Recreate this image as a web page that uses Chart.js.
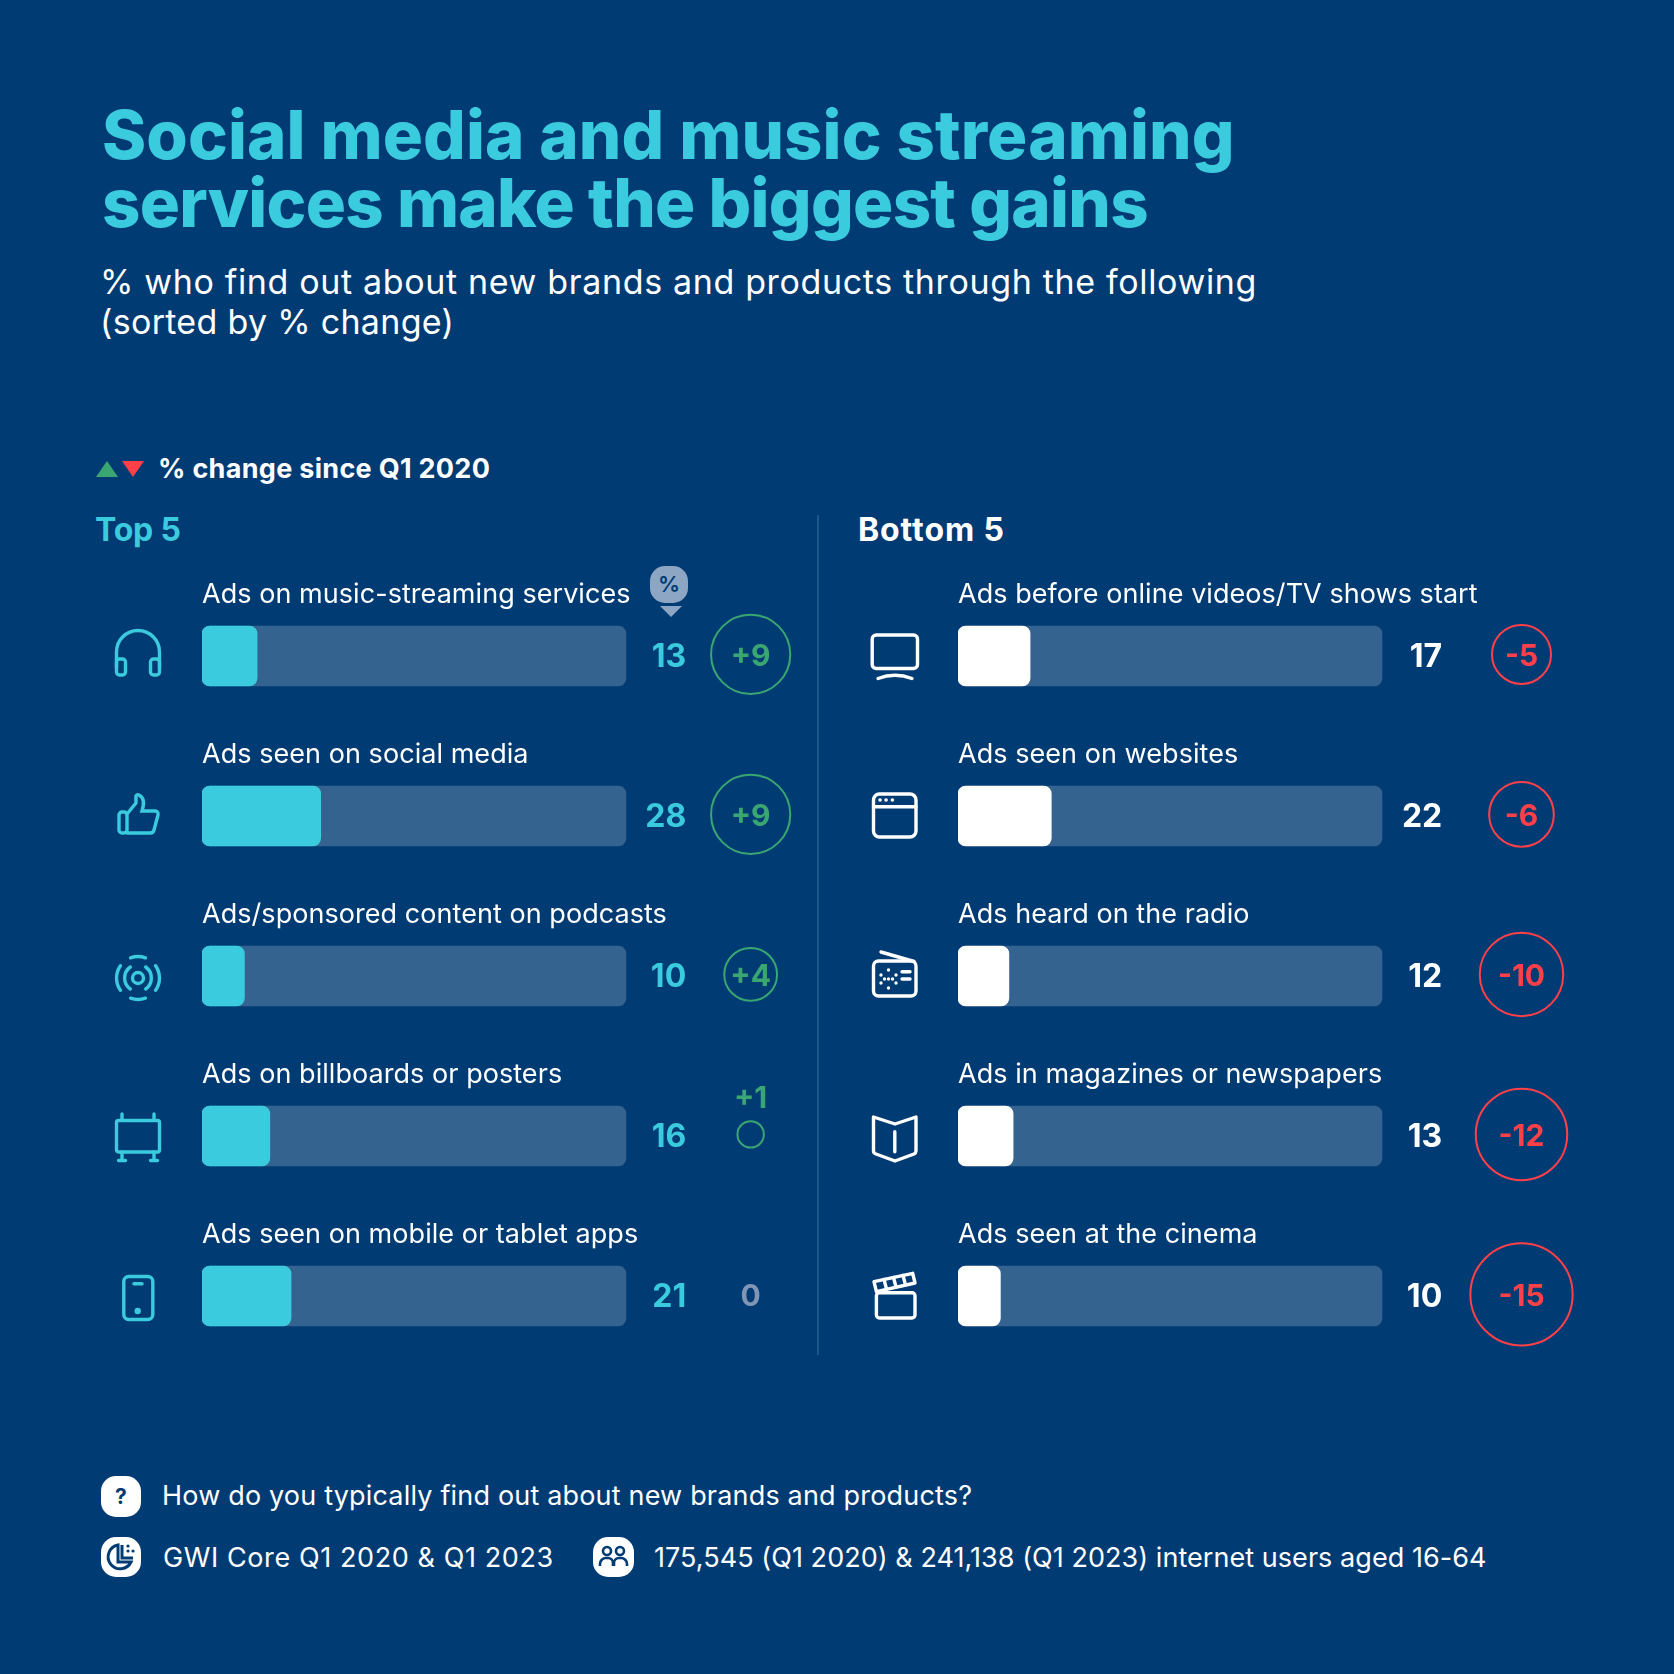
<!DOCTYPE html>
<html>
<head>
<meta charset="utf-8">
<title>Social media and music streaming services make the biggest gains</title>
<script src="https://cdn.jsdelivr.net/npm/chart.js@4/dist/chart.umd.min.js"></script>
<style>
    html, body { margin: 0; padding: 0; background: #003b73; }
    #page { position: relative; width: 1674px; height: 1674px; overflow: hidden; background: #003b73; font-family: Inter, sans-serif; color: #fff; }
    #page > * { position: absolute; }
    .title { left: 102px; top: 101px; font-size: 67px; line-height: 68px; font-weight: 800; color: #3bcbde; white-space: nowrap; }
    .subtitle { left: 100px; top: 262px; font-size: 34px; line-height: 40px; font-weight: 400; letter-spacing: 0.65px; white-space: nowrap; }
    .legend { left: 158px; top: 452px; font-size: 27px; line-height: 34px; font-weight: 700; letter-spacing: 0.3px; white-space: nowrap; }
    .panelTitle { top: 512px; font-size: 32px; line-height: 36px; font-weight: 700; white-space: nowrap; }
    .foot { font-size: 27px; line-height: 34px; font-weight: 400; white-space: nowrap; }
    .pct { left: 650px; top: 566px; width: 38px; height: 37px; border-radius: 15px; background: #8ca6c4; color: #003b73; font-size: 22px; line-height: 37px; font-weight: 600; text-align: center; }
    .divider { left: 817px; top: 515px; width: 2px; height: 840px; background: #1b5789; }
    canvas { display: block; }
</style>
</head>
<body>
<div id="page">
    <div class="title"><span style="letter-spacing:0.12px">Social media and music streaming</span><br><span style="letter-spacing:-0.7px">services make the biggest gains</span></div>
    <div class="subtitle">% who find out about new brands and products through the following<br><span style="letter-spacing:0.3px">(sorted by % change)</span></div>

    <svg style="left:94px;top:458px" width="52" height="22" viewBox="0 0 52 22">
        <path d="M2 19 L13 3 L24 19 Z" fill="#3aa772"/>
        <path d="M28 3 L50 3 L39 19 Z" fill="#ff4049"/>
    </svg>
    <div class="legend">% change since Q1 2020</div>

    <div class="panelTitle" style="left:95px;color:#3bcbde;letter-spacing:-0.2px">Top 5</div>
    <div class="panelTitle" style="left:858px;letter-spacing:0.9px">Bottom 5</div>
    <div class="divider"></div>

    <canvas id="topChart" width="636" height="840" style="left:202px;top:556px"></canvas>
    <canvas id="bottomChart" width="636" height="840" style="left:958px;top:556px"></canvas>

    <div class="pct">%</div>
    <svg style="left:659px;top:605px" width="24" height="12" viewBox="0 0 24 12"><path d="M1 1 L23 1 L12 12 Z" fill="#8ca6c4"/></svg>

    <svg style="left:101px;top:1476px" width="40" height="41" viewBox="0 0 40 41">
        <rect width="40" height="41" rx="15" fill="#fff"/>
        <text x="20" y="28" text-anchor="middle" font-family="Inter" font-weight="700" font-size="21" fill="#003b73">?</text>
    </svg>
    <div class="foot" style="left:162px;top:1479px;letter-spacing:0.18px">How do you typically find out about new brands and products?</div>

    <svg style="left:101px;top:1537px" width="40" height="40" viewBox="0 0 40 40">
        <rect width="40" height="40" rx="15" fill="#fff"/>
        <path d="M17 8 a12 12 0 1 0 13 17 h-13 Z M21 8 v13 h11" fill="none" stroke="#003b73" stroke-width="3"/>
        <circle cx="27" cy="9" r="1.6" fill="#003b73"/><circle cx="32" cy="14" r="1.6" fill="#003b73"/><circle cx="27" cy="14" r="1.6" fill="#003b73"/>
    </svg>
    <div class="foot" style="left:163px;top:1541px;letter-spacing:0.6px">GWI Core Q1 2020 &amp; Q1 2023</div>

    <svg style="left:593px;top:1537px" width="41" height="40" viewBox="0 0 41 40">
        <rect width="41" height="40" rx="15" fill="#fff"/>
        <g fill="none" stroke="#003b73" stroke-width="2.6">
            <circle cx="14" cy="14" r="4"/><circle cx="27" cy="14" r="4"/>
            <path d="M7 29 v-2 a6 6 0 0 1 6 -6 h2 a5 5 0 0 1 5 5 v3 M21 29 v-3 a5 5 0 0 1 5 -5 h2 a6 6 0 0 1 6 6 v2"/>
        </g>
    </svg>
    <div class="foot" style="left:654px;top:1541px;letter-spacing:0.05px">175,545 (Q1 2020) &amp; 241,138 (Q1 2023) internet users aged 16-64</div>
</div>

<script>
// Data
const topLabels = [
    'Ads on music-streaming services',
    'Ads seen on social media',
    'Ads/sponsored content on podcasts',
    'Ads on billboards or posters',
    'Ads seen on mobile or tablet apps'
];
const topValues = [13, 28, 10, 16, 21];
const topChanges = [9, 9, 4, 1, 0];

const bottomLabels = [
    'Ads before online videos/TV shows start',
    'Ads seen on websites',
    'Ads heard on the radio',
    'Ads in magazines or newspapers',
    'Ads seen at the cinema'
];
const bottomValues = [17, 22, 12, 13, 10];
const bottomChanges = [-5, -6, -10, -12, -15];

const trackValues = [100, 100, 100, 100, 100];

// Colours
const TEAL = '#3bcbde';
const WHITE = '#ffffff';
const TRACK = '#35638f';
const GREEN = '#3aa772';
const RED = '#ff4049';
const GREY = '#7f97b5';

// Fonts
const LABEL_FONT = '400 27px Inter, sans-serif';
const VALUE_FONT = '700 32px Inter, sans-serif';
const CHANGE_FONT = '700 30px Inter, sans-serif';

// Format a change number the way the picture does
function formatChange(value) {
    return value > 0 ? '+' + value : String(value);
}

// Circle area follows the size of the change
function changeRadius(value) {
    return 13.2 * Math.sqrt(Math.abs(value));
}

function changeColor(value) {
    if (value > 0) return GREEN;
    if (value < 0) return RED;
    return GREY;
}

// Draws category names, values and change numbers
const rowTextPlugin = {
    id: 'rowText',
    afterDatasetsDraw(chart, args, opts) {
        const { ctx, scales } = chart;
        const circles = chart.getDatasetMeta(2).data;
        ctx.save();
        ctx.textBaseline = 'middle';
        opts.labels.forEach((label, i) => {
            const rowY = scales.y.getPixelForValue(i);

            ctx.font = LABEL_FONT;
            ctx.letterSpacing = '0.05px';
            ctx.textAlign = 'left';
            ctx.fillStyle = WHITE;
            ctx.fillText(label, scales.x.getPixelForValue(0), rowY - 61);

            ctx.font = VALUE_FONT;
            ctx.letterSpacing = '0px';
            ctx.textAlign = 'right';
            ctx.fillStyle = opts.valueColor;
            ctx.fillText(String(opts.values[i]), scales.x.getPixelForValue(opts.valueAt), rowY + 1);

            // The circle for +1 is too small to hold its number
            const change = opts.changes[i];
            const labelY = Math.abs(change) === 1 ? circles[i].y - 35 : circles[i].y + 3;
            ctx.font = CHANGE_FONT;
            ctx.textAlign = 'center';
            ctx.fillStyle = changeColor(change);
            ctx.fillText(formatChange(change), circles[i].x, labelY);
        });
        ctx.restore();
    }
};

function drawPanel(canvasId, labels, values, changes, valueColor, valueAt, changeAt) {
    const ctx = document.getElementById(canvasId).getContext('2d');
    return new Chart(ctx, {
        type: 'bar',
        data: {
            labels: labels,
            datasets: [
                {
                    data: values,
                    backgroundColor: valueColor,
                    borderRadius: 8,
                    borderSkipped: false,
                    barThickness: 60,
                    grouped: false,
                    order: 1
                },
                {
                    data: trackValues,
                    backgroundColor: TRACK,
                    borderRadius: 8,
                    borderSkipped: false,
                    barThickness: 60,
                    grouped: false,
                    order: 2
                },
                {
                    type: 'bubble',
                    indexAxis: 'x',
                    xAxisID: 'x',
                    yAxisID: 'circleY',
                    clip: false,
                    data: changes.map((c, i) => ({ x: changeAt, y: i, r: changeRadius(c) })),
                    backgroundColor: 'transparent',
                    borderColor: changes.map(changeColor),
                    borderWidth: 2,
                    order: 0
                }
            ]
        },
        options: {
            indexAxis: 'y',
            responsive: false,
            animation: false,
            events: [],
            layout: { autoPadding: false, padding: { top: 20, bottom: 20 } },
            plugins: {
                legend: { display: false },
                tooltip: { enabled: false },
                rowText: { labels, values, changes, valueColor, valueAt }
            },
            scales: {
                x: { type: 'linear', min: 0, max: 150, display: false },
                y: { type: 'category', offset: true, display: false },
                // same rows, nudged up a little: the circles sit just above the bar centre
                circleY: { type: 'linear', axis: 'y', offset: false, min: -0.49, max: 4.51, reverse: true, display: false }
            }
        },
        plugins: [rowTextPlugin]
    });
}

drawPanel('topChart', topLabels, topValues, topChanges, TEAL, 114.2, 129.4);
drawPanel('bottomChart', bottomLabels, bottomValues, bottomChanges, WHITE, 114.2, 132.9);

// Row icons, all on a 48 unit box
const topIcons = [
    '<path d="M2.5 38 V22 A21.5 21.5 0 0 1 45.5 22 V38"/><rect x="2.5" y="29" width="9" height="16" rx="3"/><rect x="36.5" y="29" width="9" height="16" rx="3"/>',
    '<rect x="5" y="22" width="8" height="21" rx="3"/><path d="M13 24 L22 13 V6 a2 2 0 0 1 3 -1 c4 2 6 7 3 16 H41 a3 3 0 0 1 3 4 L40 40 a4 4 0 0 1 -4 3 H13"/>',
    '<circle cx="24" cy="28" r="5.5"/><path d="M16.3 17 A13.5 13.5 0 0 0 16.3 39 M31.7 17 A13.5 13.5 0 0 1 31.7 39"/><path d="M6.4 15.7 A21.5 21.5 0 0 0 6.4 40.3 M41.6 15.7 A21.5 21.5 0 0 1 41.6 40.3 M16.6 7.8 A21.5 21.5 0 0 1 31.4 7.8 M16.6 48.2 A21.5 21.5 0 0 0 31.4 48.2"/>',
    '<rect x="2.5" y="10.5" width="43" height="31.5" rx="2"/><path d="M8 4 V10 M40 4 V10 M8 42 V50.5 M40 42 V50.5 M4.5 50.5 H11.5 M36.5 50.5 H43.5"/>',
    '<rect x="9.8" y="6.5" width="29" height="43" rx="5"/><path d="M20 13.7 H28"/><circle cx="23.7" cy="41" r="1.5"/>'
];
const bottomIcons = [
    '<rect x="1.2" y="5" width="45.3" height="33.5" rx="4"/><path d="M7 48.5 Q24 42 41 48.5"/>',
    '<rect x="2.5" y="4" width="42.5" height="43" rx="6"/><path d="M2.5 16.7 H45"/><path d="M9 10 h.1 M15 10 h.1 M21.3 10 h.1" stroke-width="3.6"/>',
    '<rect x="2.5" y="11" width="42.5" height="35" rx="5"/><path d="M10 2 L43 11.5"/><path d="M31 21.7 H39 M31 29 H39"/><path d="M17.5 20 v.1 M17.5 29 v.1 M17.5 38 v.1 M10 25 v.1 M10 33 v.1 M25 25 v.1 M25 33 v.1 M13.5 29 v.1 M21.5 29 v.1" stroke-width="3.4"/>',
    '<path d="M2.5 7 L24 14 L45 7 V41 Q45 43 43 44 L24 51 L5 44 Q2.5 43 2.5 41 Z" stroke-linejoin="round"/><path d="M23.8 21.7 V41.7"/>',
    '<rect x="5.4" y="22.7" width="38.6" height="25.3" rx="3"/><path d="M5.4 21.7 L3 11.7 L41.7 3.3 L44 13 L5.4 21.7 Z" stroke-linejoin="round"/><path d="M13 9.5 L15.5 19 M22.5 7.5 L25 17 M32 5.5 L34.5 15"/>'
];

// Put the icons next to their rows
function placeIcons(icons, left, color) {
    const page = document.getElementById('page');
    icons.forEach((inner, i) => {
        const svg = document.createElementNS('http://www.w3.org/2000/svg', 'svg');
        svg.setAttribute('viewBox', '0 0 48 48');
        svg.setAttribute('width', 48);
        svg.setAttribute('height', 48);
        svg.style.left = left + 'px';
        svg.style.top = (630 + i * 160) + 'px';
        svg.style.overflow = 'visible';
        svg.style.fill = 'none';
        svg.style.stroke = color;
        svg.style.strokeWidth = 3.4;
        svg.style.strokeLinecap = 'round';
        svg.innerHTML = inner;
        page.appendChild(svg);
    });
}

placeIcons(topIcons, 114, TEAL);
placeIcons(bottomIcons, 871, WHITE);
</script>
</body>
</html>
